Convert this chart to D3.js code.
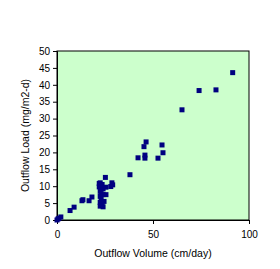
<!DOCTYPE html>
<html>
<head>
<meta charset="utf-8">
<script src="https://cdn.jsdelivr.net/npm/d3@7"></script>
<style>
  body { margin: 0; background: #fff; }
  text { font-family: "Liberation Sans", Arial, sans-serif; }
</style>
</head>
<body>
<div id="container"></div>
<script>
/* CONSTANTS AND GLOBALS */
const width = 280,
  height = 269,
  margin = { top: 51, bottom: 49, left: 57, right: 31 };

/* DATA */
const volume = [0, 0.5, 1, 2, 6.8, 8.9, 13, 13.5, 16.7, 18.2,
  22, 22.5, 23.5, 22, 24, 22.5, 23, 24, 22.5, 25.5, 23, 24.5, 22.5, 23.5, 22.5, 24, 25.5, 25.2,
  28.6, 29, 28, 38, 42.2, 45.3, 45.8, 46.4, 45.8, 52.6, 54.7, 55.2, 65.1, 74, 82.8, 91.5];
const load = [0, 0.3, 0.5, 0.9, 2.8, 3.8, 5.7, 6, 5.7, 6.8,
  10.8, 11, 10.5, 9.8, 9.2, 8.5, 7.8, 7.5, 7, 7.5, 6.2, 5.5, 5.2, 4.6, 4.1, 3.9, 9.7, 12.6,
  11, 10.4, 9.9, 13.4, 18.4, 21.7, 19.2, 23.1, 18.3, 18.3, 22.2, 19.9, 32.6, 38.3, 38.5, 43.6];
const xTicks = [0, 50, 100];
const yTicks = [0, 5, 10, 15, 20, 25, 30, 35, 40, 45, 50];

const data = volume.map((v, i) => ({ x: v, y: load[i] }));

// SCALES
const xScale = d3.scaleLinear()
  .domain([0, 100])
  .range([margin.left, width - margin.right]);

const yScale = d3.scaleLinear()
  .domain([0, 50])
  .range([height - margin.bottom, margin.top]);

// SVG
const svg = d3.select("#container")
  .append("svg")
  .attr("width", width)
  .attr("height", height);

// plot background
svg.append("rect")
  .attr("x", margin.left)
  .attr("y", margin.top)
  .attr("width", width - margin.left - margin.right)
  .attr("height", height - margin.top - margin.bottom)
  .attr("fill", "#ccffcc")
  .attr("stroke", "black")
  .attr("stroke-width", 1);

// AXES
const xAxis = d3.axisBottom(xScale).tickValues(xTicks).tickSize(4).tickPadding(7);
svg.append("g")
  .attr("transform", `translate(0,${height - margin.bottom})`)
  .call(xAxis)
  .call(g => g.select(".domain").attr("stroke", "black"))
  .call(g => g.selectAll("text").attr("font-size", 10).attr("fill", "black")
    .style("font-family", "'Liberation Sans', Arial, sans-serif"));

const yAxis = d3.axisLeft(yScale).tickValues(yTicks).tickSize(4).tickPadding(3);
svg.append("g")
  .attr("transform", `translate(${margin.left},0)`)
  .call(yAxis)
  .call(g => g.select(".domain").attr("stroke", "black"))
  .call(g => g.selectAll("text").attr("font-size", 10).attr("fill", "black")
    .style("font-family", "'Liberation Sans', Arial, sans-serif"));

// axis labels
svg.append("text")
  .attr("x", (margin.left + width - margin.right) / 2)
  .attr("y", 257)
  .attr("text-anchor", "middle")
  .attr("font-size", 10.5)
  .attr("fill", "black")
  .text("Outflow Volume (cm/day)");

svg.append("text")
  .attr("transform", `translate(29,${(margin.top + height - margin.bottom) / 2}) rotate(-90)`)
  .attr("text-anchor", "middle")
  .attr("font-size", 10.5)
  .attr("fill", "black")
  .text("Outflow Load (mg/m2-d)");

// POINTS
svg.selectAll(".pt")
  .data(data)
  .join("rect")
  .attr("class", "pt")
  .attr("x", d => xScale(d.x) - 2.5)
  .attr("y", d => yScale(d.y) - 2.5)
  .attr("width", 5)
  .attr("height", 5)
  .attr("fill", "#000080");
</script>
</body>
</html>
